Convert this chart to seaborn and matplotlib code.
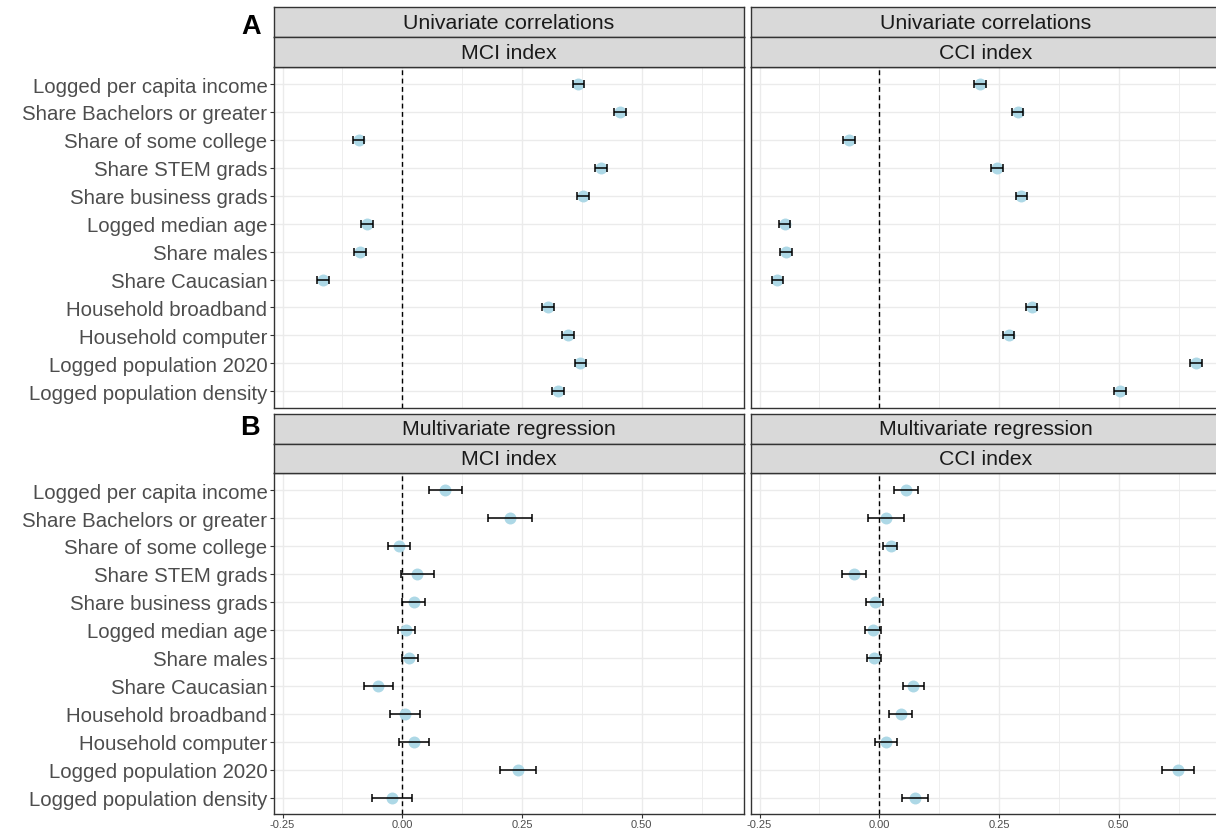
import matplotlib
matplotlib.use("Agg")
import matplotlib.pyplot as plt
import numpy as np
import seaborn as sns

# variables shown on the y axis (top to bottom)
variables = [
    "Logged per capita income",
    "Share Bachelors or greater",
    "Share of some college",
    "Share STEM grads",
    "Share business grads",
    "Logged median age",
    "Share males",
    "Share Caucasian",
    "Household broadband",
    "Household computer",
    "Logged population 2020",
    "Logged population density",
]

# A: univariate correlations (estimate and CI half-width)
uni_mci = [0.368, 0.455, -0.091, 0.415, 0.377, -0.074, -0.088, -0.166, 0.304, 0.346, 0.372, 0.325]
uni_mci_err = [0.012, 0.012, 0.012, 0.012, 0.012, 0.012, 0.012, 0.012, 0.012, 0.012, 0.012, 0.012]
uni_cci = [0.210, 0.289, -0.063, 0.246, 0.297, -0.198, -0.195, -0.213, 0.318, 0.270, 0.661, 0.503]
uni_cci_err = [0.012, 0.012, 0.012, 0.012, 0.012, 0.012, 0.012, 0.012, 0.012, 0.012, 0.012, 0.012]

# B: multivariate regression (estimate, lower and upper bounds)
reg_mci = [0.089, 0.224, -0.006, 0.031, 0.024, 0.008, 0.015, -0.050, 0.006, 0.024, 0.242, -0.022]
reg_mci_lo = [0.055, 0.178, -0.030, -0.003, 0.000, -0.010, -0.001, -0.081, -0.026, -0.007, 0.205, -0.063]
reg_mci_hi = [0.124, 0.270, 0.017, 0.066, 0.048, 0.027, 0.032, -0.019, 0.038, 0.056, 0.279, 0.020]
reg_cci = [0.055, 0.014, 0.024, -0.053, -0.010, -0.013, -0.012, 0.071, 0.045, 0.013, 0.624, 0.074]
reg_cci_lo = [0.030, -0.023, 0.008, -0.077, -0.027, -0.029, -0.026, 0.050, 0.021, -0.010, 0.591, 0.047]
reg_cci_hi = [0.081, 0.052, 0.038, -0.028, 0.007, 0.003, 0.003, 0.093, 0.068, 0.038, 0.657, 0.102]

x_ticks = [-0.25, 0.0, 0.25, 0.50]
x_tick_labels = ["-0.25", "0.00", "0.25", "0.50"]
x_minor = [-0.125, 0.125, 0.375, 0.625]

sns.set_style("white")
plt.rcParams["font.family"] = ["Liberation Sans", "DejaVu Sans"]

W, H = 1216, 829
fig = plt.figure(figsize=(W / 100, H / 100), dpi=100)


def box(x0, y0, x1, y1):
    return [x0 / W, 1 - y1 / H, (x1 - x0) / W, (y1 - y0) / H]


cols = [(273.7, 744.0), (750.7, 1221.0)]
rows = [(68.3, 409.0), (474.3, 815.3)]
strips = [[(8.3, 38.3), (38.3, 68.3)], [(414.7, 444.5), (444.5, 474.3)]]

u_mci = np.array(uni_mci)
u_cci = np.array(uni_cci)
panels = [
    (0, 0, u_mci, u_mci - np.array(uni_mci_err), u_mci + np.array(uni_mci_err), "Univariate correlations", "MCI index"),
    (0, 1, u_cci, u_cci - np.array(uni_cci_err), u_cci + np.array(uni_cci_err), "Univariate correlations", "CCI index"),
    (1, 0, np.array(reg_mci), np.array(reg_mci_lo), np.array(reg_mci_hi), "Multivariate regression", "MCI index"),
    (1, 1, np.array(reg_cci), np.array(reg_cci_lo), np.array(reg_cci_hi), "Multivariate regression", "CCI index"),
]

edge = "#333333"
for r, c, est, lo, hi, model, index in panels:
    x0, x1 = cols[c]
    y0, y1 = rows[r]
    ax = fig.add_axes(box(x0, y0, x1, y1))
    sns.stripplot(x=list(est), y=variables, order=variables, jitter=False,
                  color="#ADD8E6", size=8.6, linewidth=0, ax=ax, zorder=2)
    ypos = np.arange(len(variables))
    ax.errorbar(est, ypos, xerr=[est - lo, hi - est], fmt="none", ecolor="black",
                elinewidth=1.1, capsize=2.6, capthick=1.1, zorder=3)
    ax.axvline(0, color="black", linestyle=(0, (3.5, 2.5)), linewidth=1.0, zorder=1.5)

    ax.set_xlim(-0.2686, 0.7137)
    ax.set_ylim(len(variables) - 0.4, -0.6)
    ax.set_xticks(x_ticks)
    ax.set_xticks(x_minor, minor=True)
    ax.set_yticks(ypos)
    ax.set_axisbelow(True)
    ax.grid(which="major", color="#EBEBEB", linewidth=1.0)
    ax.grid(which="minor", axis="x", color="#EBEBEB", linewidth=0.6)
    ax.set_xlabel("")
    ax.set_ylabel("")
    for s in ax.spines.values():
        s.set_color(edge)
        s.set_linewidth(1.0)

    ax.tick_params(axis="both", which="minor", length=0)
    if c == 0:
        ax.set_yticklabels(variables, fontsize=14.7, color="#4D4D4D")
        ax.tick_params(axis="y", which="major", length=3, width=0.8, color=edge, pad=1.5, left=True)
    else:
        ax.tick_params(axis="y", which="major", left=False, labelleft=False)
    if r == 1:
        ax.set_xticklabels(x_tick_labels, fontsize=8, color="#4D4D4D")
        ax.tick_params(axis="x", which="major", length=2.6, width=0.8, color=edge, pad=0.6, bottom=True)
    else:
        ax.tick_params(axis="x", which="major", bottom=False, labelbottom=False)

    # facet strips
    for (sy0, sy1), label in zip(strips[r], [model, index]):
        sax = fig.add_axes(box(x0, sy0, x1, sy1))
        sax.set_facecolor("#D9D9D9")
        sax.set_xticks([])
        sax.set_yticks([])
        for s in sax.spines.values():
            s.set_color(edge)
            s.set_linewidth(1.0)
        sax.text(0.5, 0.5, label, transform=sax.transAxes, ha="center", va="center",
                 fontsize=15.3, color="#1A1A1A")

fig.text(261 / W, 1 - 26.5 / H, "A", ha="right", va="center", fontsize=19.5,
         fontweight="bold", color="black")
fig.text(260 / W, 1 - 428.5 / H, "B", ha="right", va="center", fontsize=19.5,
         fontweight="bold", color="black")

fig.savefig("out.png", dpi=100)
